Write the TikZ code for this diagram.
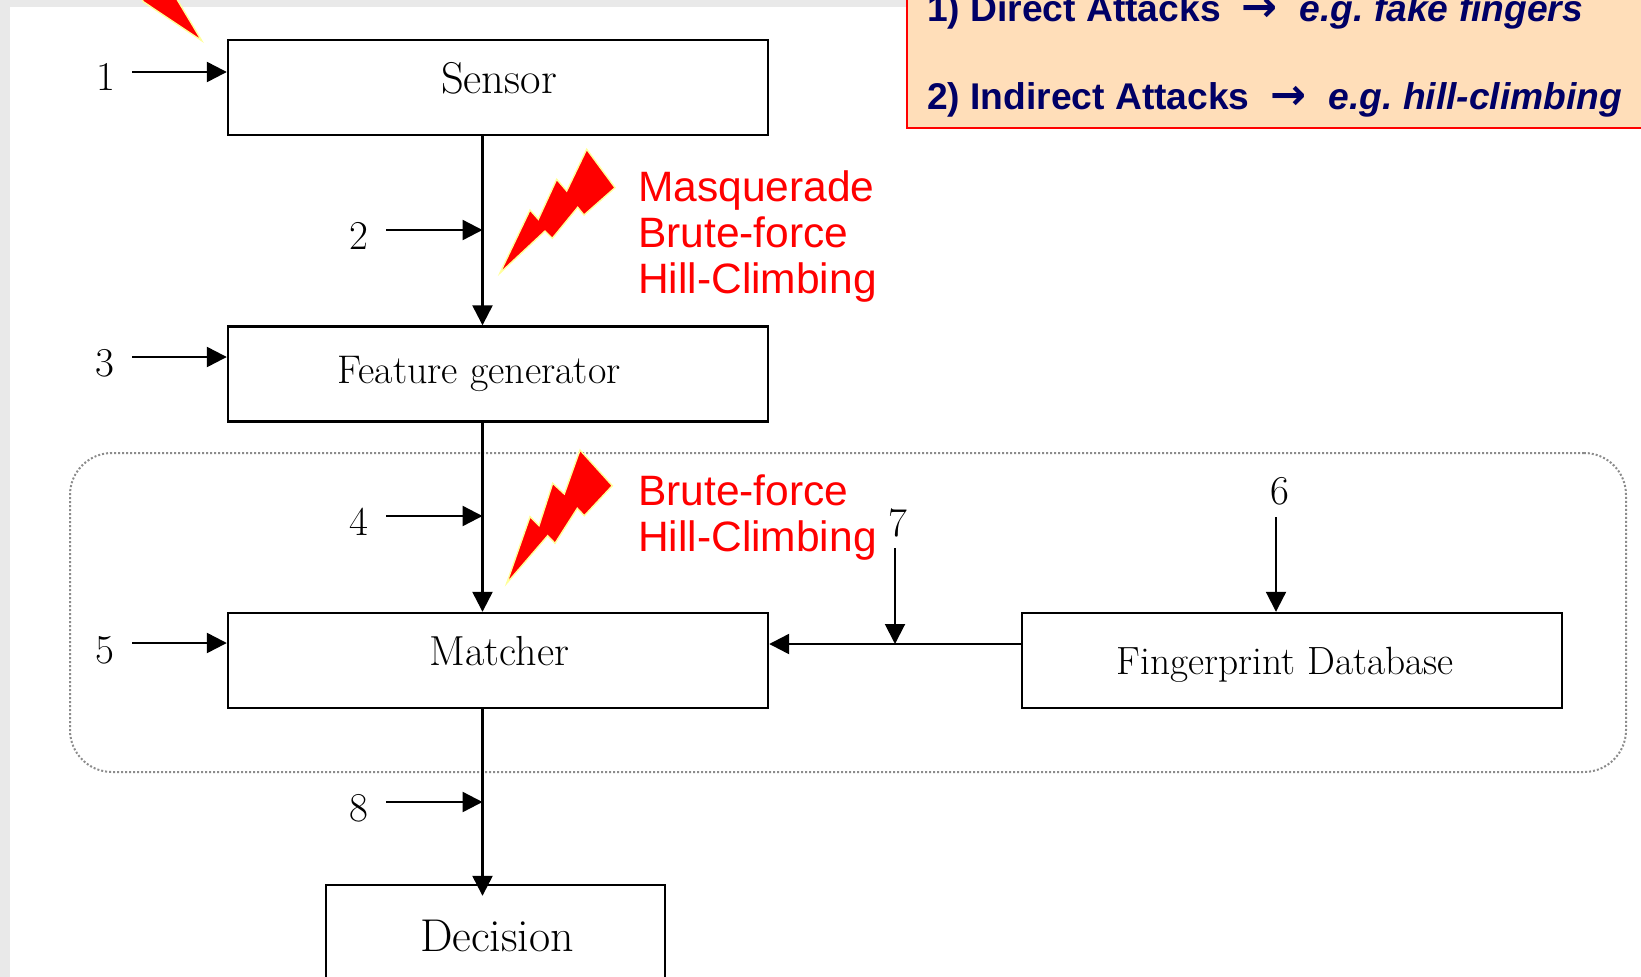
\documentclass[tikz,border=0pt]{standalone}
\usepackage{fontspec}
\usepackage{xcolor}
\usetikzlibrary{positioning, arrows.meta}
\newfontfamily\sansfont{Liberation Sans}
\newfontfamily\arrowfont{DejaVu Sans}
\definecolor{FrameGray}{RGB}{233,233,233}
\definecolor{AttackNavy}{RGB}{0,0,102}
\definecolor{PanelPeach}{RGB}{255,222,185}
\definecolor{BoltEdge}{RGB}{255,255,153}

\begin{document}
\begin{tikzpicture}[
      x=1pt, y=-1pt,
      box/.style={rectangle, draw=black, line width=2.4pt, fill=white,
                  minimum width=540pt, minimum height=95pt, inner sep=0pt,
                  font=\fontsize{40}{44}\selectfont},
      num/.style={inner sep=0pt, font=\fontsize{41}{44}\selectfont},
      sig/.style={-{Triangle[length=20pt, width=20pt]}, black, line width=2.4pt},
      sigthin/.style={sig, line width=2pt},
      threat/.style={inner sep=0pt, anchor=west, align=left, text=red,
                     font=\sansfont\fontsize{42.5}{46}\selectfont},
      attack/.style={inner sep=0pt, anchor=base west, text=AttackNavy,
                     font=\sansfont\bfseries\fontsize{37.2}{40}\selectfont},
      bolt/.style={fill=red, draw=BoltEdge, line width=1.4pt, line join=miter}
    ]
    \useasboundingbox (0,0) rectangle (1641,977);
    \clip (0,0) rectangle (1641,977);

    % Page frame
    \fill[FrameGray] (0,0) rectangle (1641,977);
    \fill[white] (10,7) rectangle (1641,977);

    % Dotted zone
    \node[rectangle, rounded corners=42pt, draw=black!45, line width=2pt,
          dash pattern=on 2pt off 2pt, minimum width=1556pt,
          minimum height=319pt, inner sep=0pt] (zone) at (848, 612.5) {};

    % Attack panel
    \node[rectangle, draw=red, line width=1.6pt, fill=PanelPeach, inner sep=0pt,
          minimum width=760pt, minimum height=148pt] (panel) at (1287, 54) {};
    \node[attack] (direct) at (927, 21)
          {\frenchspacing 1) Direct Attacks\hspace{21pt}{\arrowfont\fontsize{43}{40}\selectfont →}\hspace{22pt}\textit{e.g. fake fingers}};
    \node[attack] (indirect) at (927, 109)
          {\frenchspacing 2) Indirect Attacks\hspace{21pt}{\arrowfont\fontsize{43}{40}\selectfont →}\hspace{22pt}\textit{e.g. hill-climbing}};

    % Boxes
    \node[box, font=\fontsize{44.5}{48}\selectfont] (sensor) at (498, 87.5)
          {\hspace*{2pt}\raisebox{20pt}{Sensor}};
    \node[box] (feature) at (498, 374)
          {\hspace*{-38pt}\raisebox{3pt}{Feature generator}};
    \node[box, font=\fontsize{42}{46}\selectfont] (matcher) at (498, 660.5)
          {\hspace*{3pt}\raisebox{20pt}{Matcher}};
    \node[box, font=\fontsize{39.4}{44}\selectfont] (dbase) at (1292, 660.5)
          {\hspace*{-14pt}\raisebox{-14pt}[0pt][0pt]{Fingerprint Database}};
    \node[box, minimum width=339pt, font=\fontsize{46}{50}\selectfont] (decision) at (495.5, 932.5)
          {\hspace*{3pt}\raisebox{-18.5pt}[0pt][0pt]{Decision}};

    % Trunk and database link
    \coordinate (trunk) at (482.5, 0);
    \coordinate (link) at (0, 644);
    \draw[sig] (trunk |- sensor.south) -- (trunk |- feature.north);
    \draw[sig] (trunk |- feature.south) -- (trunk |- matcher.north);
    \draw[sig, shorten >=-12pt] (trunk |- matcher.south) -- (trunk |- decision.north);
    \draw[sig] (link -| dbase.west) -- (link -| matcher.east);

    % Numbered inputs
    \node[num] (n1) at (106, 77) {1};
    \node[num] (n2) at (359, 236) {2};
    \node[num] (n3) at (105, 363) {3};
    \node[num] (n4) at (359, 522) {4};
    \node[num] (n5) at (105, 650) {5};
    \node[num] (n6) at (1280, 491) {6};
    \node[num] (n7) at (898, 523) {7};
    \node[num] (n8) at (359, 808) {8};
    \draw[sig] ([shift={(26,-5)}]n1.center) coordinate (s1) -- (s1 -| sensor.west);
    \draw[sig] ([shift={(27,-6)}]n2.center) coordinate (s2) -- (s2 -| trunk);
    \draw[sig] ([shift={(27,-6)}]n3.center) coordinate (s3) -- (s3 -| feature.west);
    \draw[sig] ([shift={(27,-6)}]n4.center) coordinate (s4) -- (s4 -| trunk);
    \draw[sig] ([shift={(27,-7)}]n5.center) coordinate (s5) -- (s5 -| matcher.west);
    \draw[sigthin] ([shift={(-4,26)}]n6.center) coordinate (s6) -- (s6 |- dbase.north);
    \draw[sigthin] ([shift={(-3,25)}]n7.center) coordinate (s7) -- (s7 |- link);
    \draw[sig] ([shift={(27,-6)}]n8.center) coordinate (s8) -- (s8 -| trunk);

    % Lightning bolts
    \draw[bolt] (201.7,40.7) -- (143.3,1.7) -- (140,-4) -- (175,-4) -- cycle;
    \draw[bolt] (500,273) -- (530,210) -- (538.3,219.3) -- (556.7,179.3)
          -- (566.7,191) -- (586.7,149.3) -- (615,187.7) -- (584,215)
          -- (577.7,207.3) -- (552.3,238.3) -- (545,231) -- cycle;
    \draw[bolt] (506.7,583.3) -- (530,516.7) -- (539,525.7) -- (552.7,483.3)
          -- (564.3,494) -- (580,450) -- (612.3,485.7) -- (584.3,515.7)
          -- (577.3,508.3) -- (555,543.3) -- (547.7,535.7) -- cycle;

    % Threat labels
    \node[threat] (threatone) at (638, 236.5) {Masquerade\\Brute-force\\Hill-Climbing};
    \node[threat] (threattwo) at (638, 517.5) {Brute-force\\Hill-Climbing};
  \end{tikzpicture}
\end{document}
